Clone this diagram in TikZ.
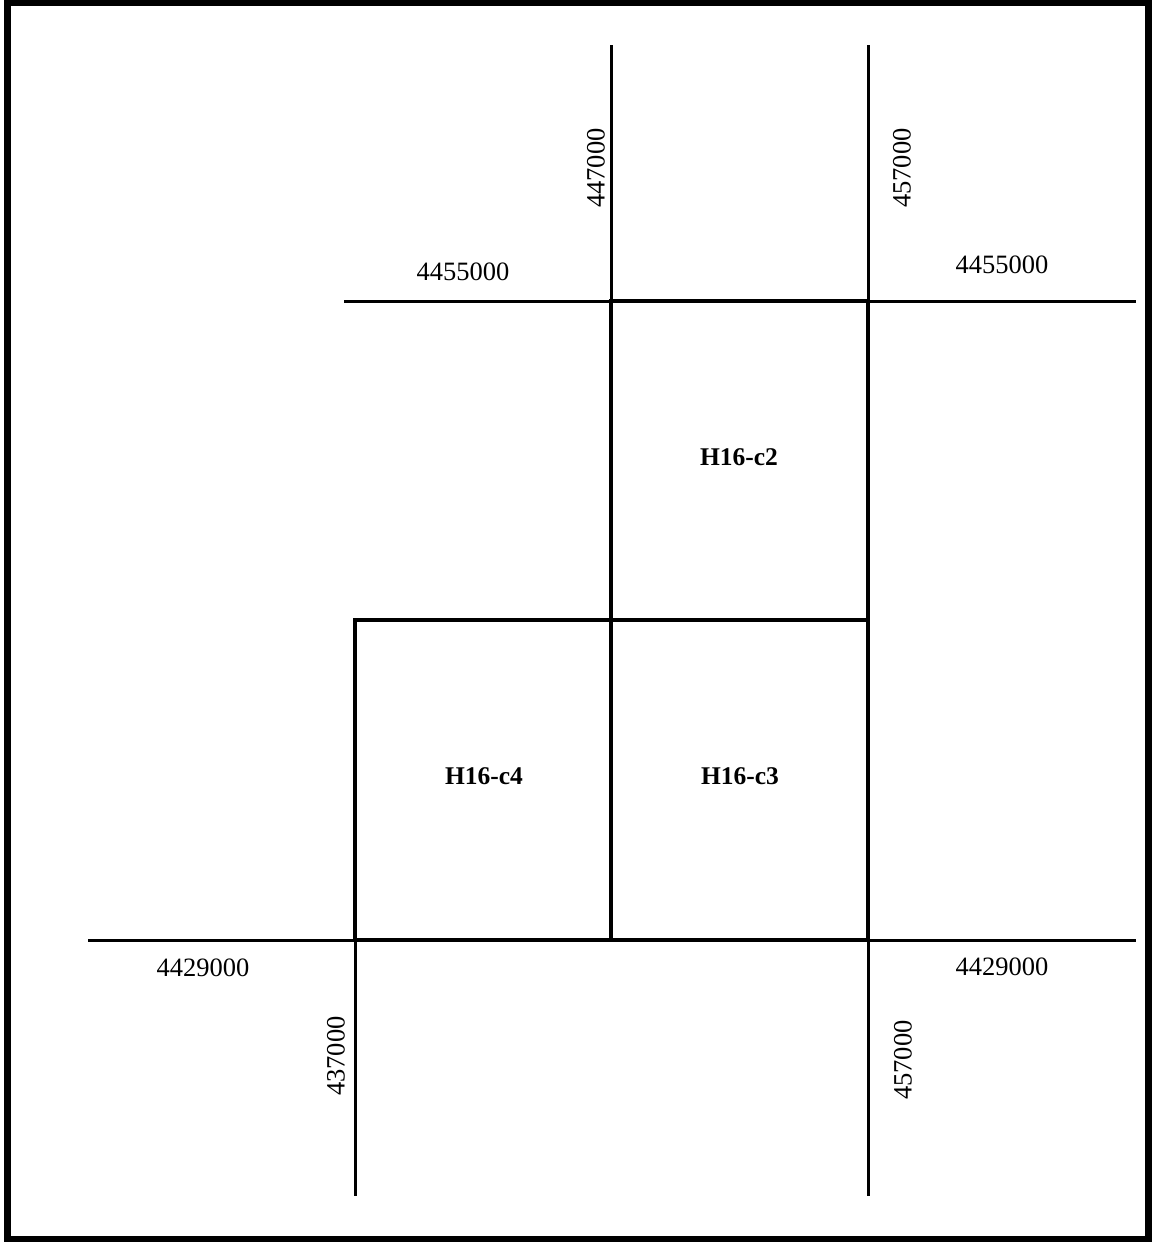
\documentclass[tikz,border=0pt]{standalone}
\usepackage{fontspec}
\setmainfont{Liberation Serif}
\begin{document}
\begin{tikzpicture}[x=1pt,y=-1pt,
  gridline/.style={line width=3pt},
  boxline/.style={line width=4.6pt},
  coordlabel/.style={font=\fontsize{26.5}{28}\selectfont, inner sep=0pt},
  celllabel/.style={font=\fontsize{25.5}{28}\selectfont\bfseries, inner sep=0pt}]
\useasboundingbox (0,0) rectangle (1156,1242);
\draw[line width=6.5pt] (7.5,3) rectangle (1148.5,1239);
% grid line endpoints
\coordinate (v1t) at (611,45);
\coordinate (v1b) at (611,940);
\coordinate (v2t) at (868,45);
\coordinate (v2b) at (868,1196);
\coordinate (v3t) at (355,620);
\coordinate (v3b) at (355,1196);
\coordinate (h1l) at (344,301);
\coordinate (h1r) at (1136,301);
\coordinate (h2l) at (88,940);
\coordinate (h2r) at (1136,940);
% grid lines
\draw[gridline] (v1t) -- (v1b);
\draw[gridline] (v2t) -- (v2b);
\draw[gridline] (v3t) -- (v3b);
\draw[gridline] (h1l) -- (h1r);
\draw[gridline] (h2l) -- (h2r);
% cells
\draw[boxline] (611,301) rectangle (868,620);
\draw[boxline] (611,620) rectangle (868,940);
\draw[boxline] (355,620) rectangle (611,940);
% cell labels
\node[celllabel] (c2) at (739,457) {H16-c2};
\node[celllabel] (c4) at (484,776) {H16-c4};
\node[celllabel] (c3) at (740,776) {H16-c3};
% coordinate labels
\node[coordlabel] (ntl) at (463,272) {4455000};
\node[coordlabel] (ntr) at (1002,265) {4455000};
\node[coordlabel] (nbl) at (203,968) {4429000};
\node[coordlabel] (nbr) at (1002,967) {4429000};
\node[coordlabel, rotate=90] (e1) at (596,168) {447000};
\node[coordlabel, rotate=90] (e2) at (902,168) {457000};
\node[coordlabel, rotate=90] (e3) at (336,1056) {437000};
\node[coordlabel, rotate=90] (e4) at (903,1060) {457000};
\end{tikzpicture}
\end{document}
